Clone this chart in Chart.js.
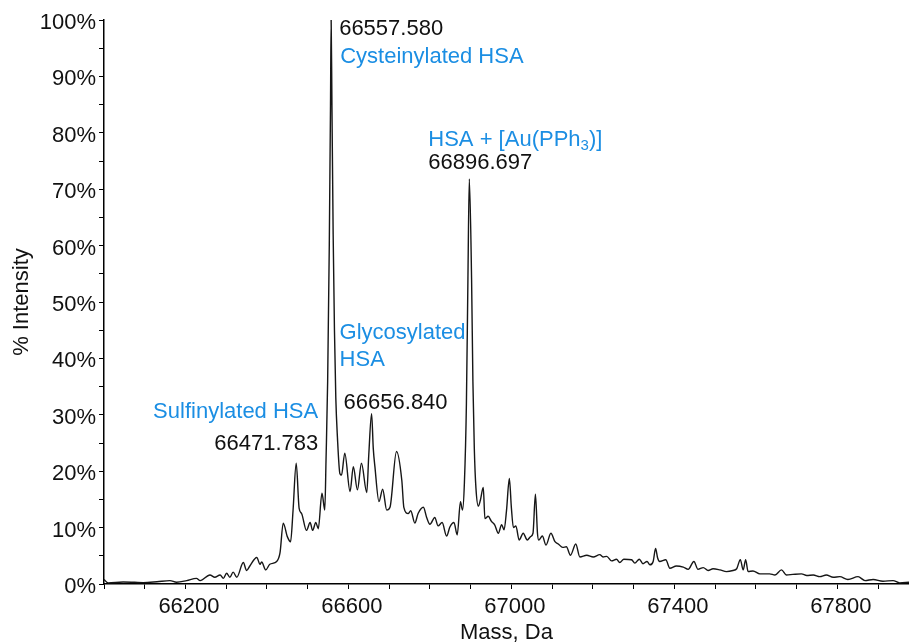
<!DOCTYPE html>
<html>
<head>
<meta charset="utf-8">
<title>Deconvoluted mass spectrum</title>
<script src="https://cdn.jsdelivr.net/npm/chart.js@4.4.1/dist/chart.umd.min.js"></script>
<style>
  html, body { margin: 0; padding: 0; background: #fff; }
  canvas { display: block; }
</style>
</head>
<body>
<canvas id="spectrum" width="909" height="642"></canvas>
<script>
// --- Spectrum trace (mass in Da, intensity in % of base peak) ---
const massDa = [
  66000, 66010, 66047, 66075, 66096, 66130, 66162, 66178, 66203, 66227,
  66236, 66260, 66272, 66285, 66293, 66301, 66309, 66317, 66326, 66342,
  66350, 66358, 66375, 66383, 66387, 66397, 66407, 66424, 66432, 66440,
  66450, 66458, 66464, 66471.783, 66479, 66485, 66497, 66506, 66512, 66520,
  66526, 66535, 66542, 66545, 66549, 66553, 66556, 66557.580, 66559.5, 66562.5,
  66565.7, 66569, 66573, 66579, 66583, 66591, 66604, 66612, 66622, 66632,
  66645, 66650, 66656.840, 66661, 66665, 66675, 66684, 66694, 66702, 66718,
  66731, 66736, 66747, 66753, 66763, 66771, 66784, 66792, 66800, 66812,
  66820, 66830, 66841, 66849, 66859, 66867, 66875, 66880, 66884.7, 66889.6,
  66893.3, 66896.697, 66902.3, 66905.5, 66909, 66913, 66919, 66924, 66931, 66935,
  66943, 66951, 66959, 66968, 66976, 66982, 66988, 66995, 67000, 67005,
  67011, 67019, 67029, 67039, 67047, 67053, 67059, 67064, 67067, 67076,
  67085, 67097, 67107, 67115, 67126, 67135, 67145, 67158, 67168, 67185,
  67201, 67217, 67225, 67234, 67246, 67258, 67266, 67276, 67295, 67303,
  67314, 67323, 67333, 67340, 67348, 67354, 67359, 67364, 67379, 67389,
  67405, 67422, 67434, 67448, 67458, 67471, 67483, 67495, 67512, 67528,
  67544, 67553, 67562, 67569, 67575, 67581, 67593, 67610, 67634, 67647,
  67663, 67675, 67691, 67712, 67725, 67741, 67757, 67773, 67790, 67806,
  67826, 67851, 67868, 67888, 67912, 67937, 67953, 67976
];
const intensityPct = [
  0.8, 0.2, 0.35, 0.3, 0.25, 0.4, 0.6, 0.3, 0.6, 1.0,
  0.6, 1.6, 1.2, 1.6, 1.0, 1.9, 1.2, 2.1, 1.2, 3.8,
  2.4, 3.2, 4.7, 3.5, 3.9, 2.5, 3.5, 4.0, 5.5, 10.8,
  8.4, 7.5, 13, 21.4, 13.4, 12.5, 9.5, 10.9, 9.5, 10.9,
  9.8, 16.1, 13.1, 22, 36, 60, 85, 100, 85, 62,
  45, 33, 26, 19.6, 19.3, 23.2, 16.4, 20.8, 16.7, 21.4,
  16.2, 23, 30.2, 24, 20.8, 14.6, 16.8, 13.1, 13.6, 23.5,
  18.4, 13.6, 12.5, 13, 10.8, 12.5, 13.6, 11.8, 10.6, 11.8,
  10.3, 10.9, 8.5, 10.1, 10.9, 8.7, 14.6, 13.1, 18, 32,
  54, 71.8, 54, 36, 24, 17, 13.8, 14.9, 17.1, 11.6,
  12, 11.1, 10.5, 9, 10.5, 9.6, 13, 18.7, 13.5, 10,
  10.3, 7.8, 9, 7.8, 8.4, 9, 15.9, 9, 7.8, 8.5,
  6.9, 9, 7.5, 7.1, 6.5, 6.6, 5.1, 7.1, 4.8, 5.1,
  4.8, 5.2, 4.8, 4.9, 4.1, 4.4, 3.8, 4.4, 4.3, 3.7,
  4.4, 3.6, 4.0, 3.4, 4.0, 6.3, 4.6, 4.0, 4.3, 2.8,
  3.2, 3.0, 2.6, 4.0, 2.6, 2.9, 2.4, 2.7, 2.5, 2.2,
  2.4, 2.7, 4.3, 2.5, 4.3, 2.2, 2.3, 1.8, 1.8, 1.6,
  2.5, 1.6, 1.7, 1.8, 1.5, 1.6, 1.3, 1.6, 1.2, 1.3,
  0.8, 1.3, 0.6, 0.8, 0.5, 0.6, 0.2, 0.3
];

// Labelled peaks
const peakMasses = [66471.783, 66557.580, 66656.840, 66896.697];
const peakNames = ['Sulfinylated HSA', 'Cysteinylated HSA', 'Glycosylated\nHSA', 'HSA + [Au(PPh₃)]'];

// Tick labels
const massTickLabels = [66200, 66600, 67000, 67400, 67800];
const intensityTickLabels = [0, 10, 20, 30, 40, 50, 60, 70, 80, 90, 100];

const FONT = '"Liberation Sans", Arial, Helvetica, sans-serif';
const INK = '#111111';
const NAME_BLUE = '#1b8ee3';

// where each callout sits relative to its peak top (px)
const calloutSpots = [
  { align: 'right', nameDx: 22, nameDy: -45, massDx: 22, massDy: -13 },
  { align: 'left', nameDx: 9, nameDy: 43, massDx: 8, massDy: 15 },
  { align: 'left', nameDx: -32, nameDy: -75, massDx: -28, massDy: -5 },
  { align: 'left', nameDx: -41, nameDy: -33, massDx: -41, massDy: -10 }
];

// draws a name line, putting the ₃ in PPh₃ as a lowered small digit
function drawName(ctx, text, x, y, align) {
  const parts = text.split('₃');
  if (parts.length === 1) {
    ctx.textAlign = align;
    ctx.fillText(text, x, y);
    return;
  }
  const bigFont = '22px ' + FONT;
  const subFont = '15px ' + FONT;
  ctx.font = bigFont;
  const w0 = ctx.measureText(parts[0]).width;
  const w2 = ctx.measureText(parts[1]).width;
  ctx.font = subFont;
  const w1 = ctx.measureText('3').width;
  let start = align === 'right' ? x - (w0 + w1 + w2) : x;
  ctx.textAlign = 'left';
  ctx.font = bigFont;
  ctx.fillText(parts[0], start, y);
  ctx.font = subFont;
  ctx.fillText('3', start + w0, y + 4);
  ctx.font = bigFont;
  ctx.fillText(parts[1], start + w0 + w1, y);
}

const peakCallouts = {
  id: 'peakCallouts',
  afterDatasetsDraw(chart) {
    const { ctx, scales: { x, y } } = chart;
    ctx.save();
    ctx.textBaseline = 'alphabetic';
    peakMasses.forEach((mass, i) => {
      const px = x.getPixelForValue(mass);
      const py = y.getPixelForValue(intensityPct[massDa.indexOf(mass)]);
      const spot = calloutSpots[i];

      ctx.font = '22px ' + FONT;
      ctx.fillStyle = NAME_BLUE;
      peakNames[i].split('\n').forEach((line, k) => {
        drawName(ctx, line, px + spot.nameDx, py + spot.nameDy + k * 27, spot.align);
      });

      ctx.font = '22px ' + FONT;
      ctx.fillStyle = INK;
      ctx.textAlign = spot.align;
      ctx.fillText(mass.toFixed(3), px + spot.massDx, py + spot.massDy);
    });
    ctx.restore();
  }
};

const ctx = document.getElementById('spectrum').getContext('2d');

new Chart(ctx, {
  type: 'line',
  data: {
    datasets: [{
      data: massDa.map((m, i) => ({ x: m, y: intensityPct[i] })),
      borderColor: '#161616',
      borderWidth: 1.4,
      pointRadius: 0,
      fill: false,
      cubicInterpolationMode: 'monotone'
    }]
  },
  options: {
    responsive: false,
    animation: false,
    devicePixelRatio: 1,
    layout: { padding: { top: 20, left: 0, right: 0, bottom: 0 } },
    plugins: {
      legend: { display: false },
      tooltip: { enabled: false }
    },
    scales: {
      x: {
        type: 'linear',
        min: 66000,
        max: 67976,
        afterFit(scale) { scale.height = 58; },
        border: { display: true, color: '#000', width: 1.5 },
        grid: { drawOnChartArea: false, drawTicks: true, tickLength: 5, color: '#000', lineWidth: 1 },
        ticks: {
          stepSize: 100,
          includeBounds: false,
          autoSkip: false,
          maxRotation: 0,
          padding: 5,
          labelOffset: 3.5,
          color: INK,
          font: { size: 22, family: FONT },
          callback: v => massTickLabels.includes(v) ? String(v) : ''
        },
        title: {
          display: true,
          text: 'Mass, Da',
          color: INK,
          font: { size: 22, family: FONT, lineHeight: 1 },
          padding: { top: 0, bottom: -2 }
        }
      },
      y: {
        min: 0,
        max: 100,
        afterFit(scale) { scale.width = 104; },
        border: { display: true, color: '#000', width: 1.5 },
        grid: { drawOnChartArea: false, drawTicks: true, tickLength: 5, color: '#000', lineWidth: 1 },
        ticks: {
          stepSize: 5,
          autoSkip: false,
          padding: 3,
          labelOffset: 3,
          color: INK,
          font: { size: 22, family: FONT },
          callback: v => intensityTickLabels.includes(v) ? v + '%' : ''
        },
        title: {
          display: true,
          text: '% Intensity',
          color: INK,
          font: { size: 22, family: FONT, lineHeight: 1 },
          padding: { top: 11, bottom: 0 }
        }
      }
    }
  },
  plugins: [peakCallouts]
});
</script>
</body>
</html>
